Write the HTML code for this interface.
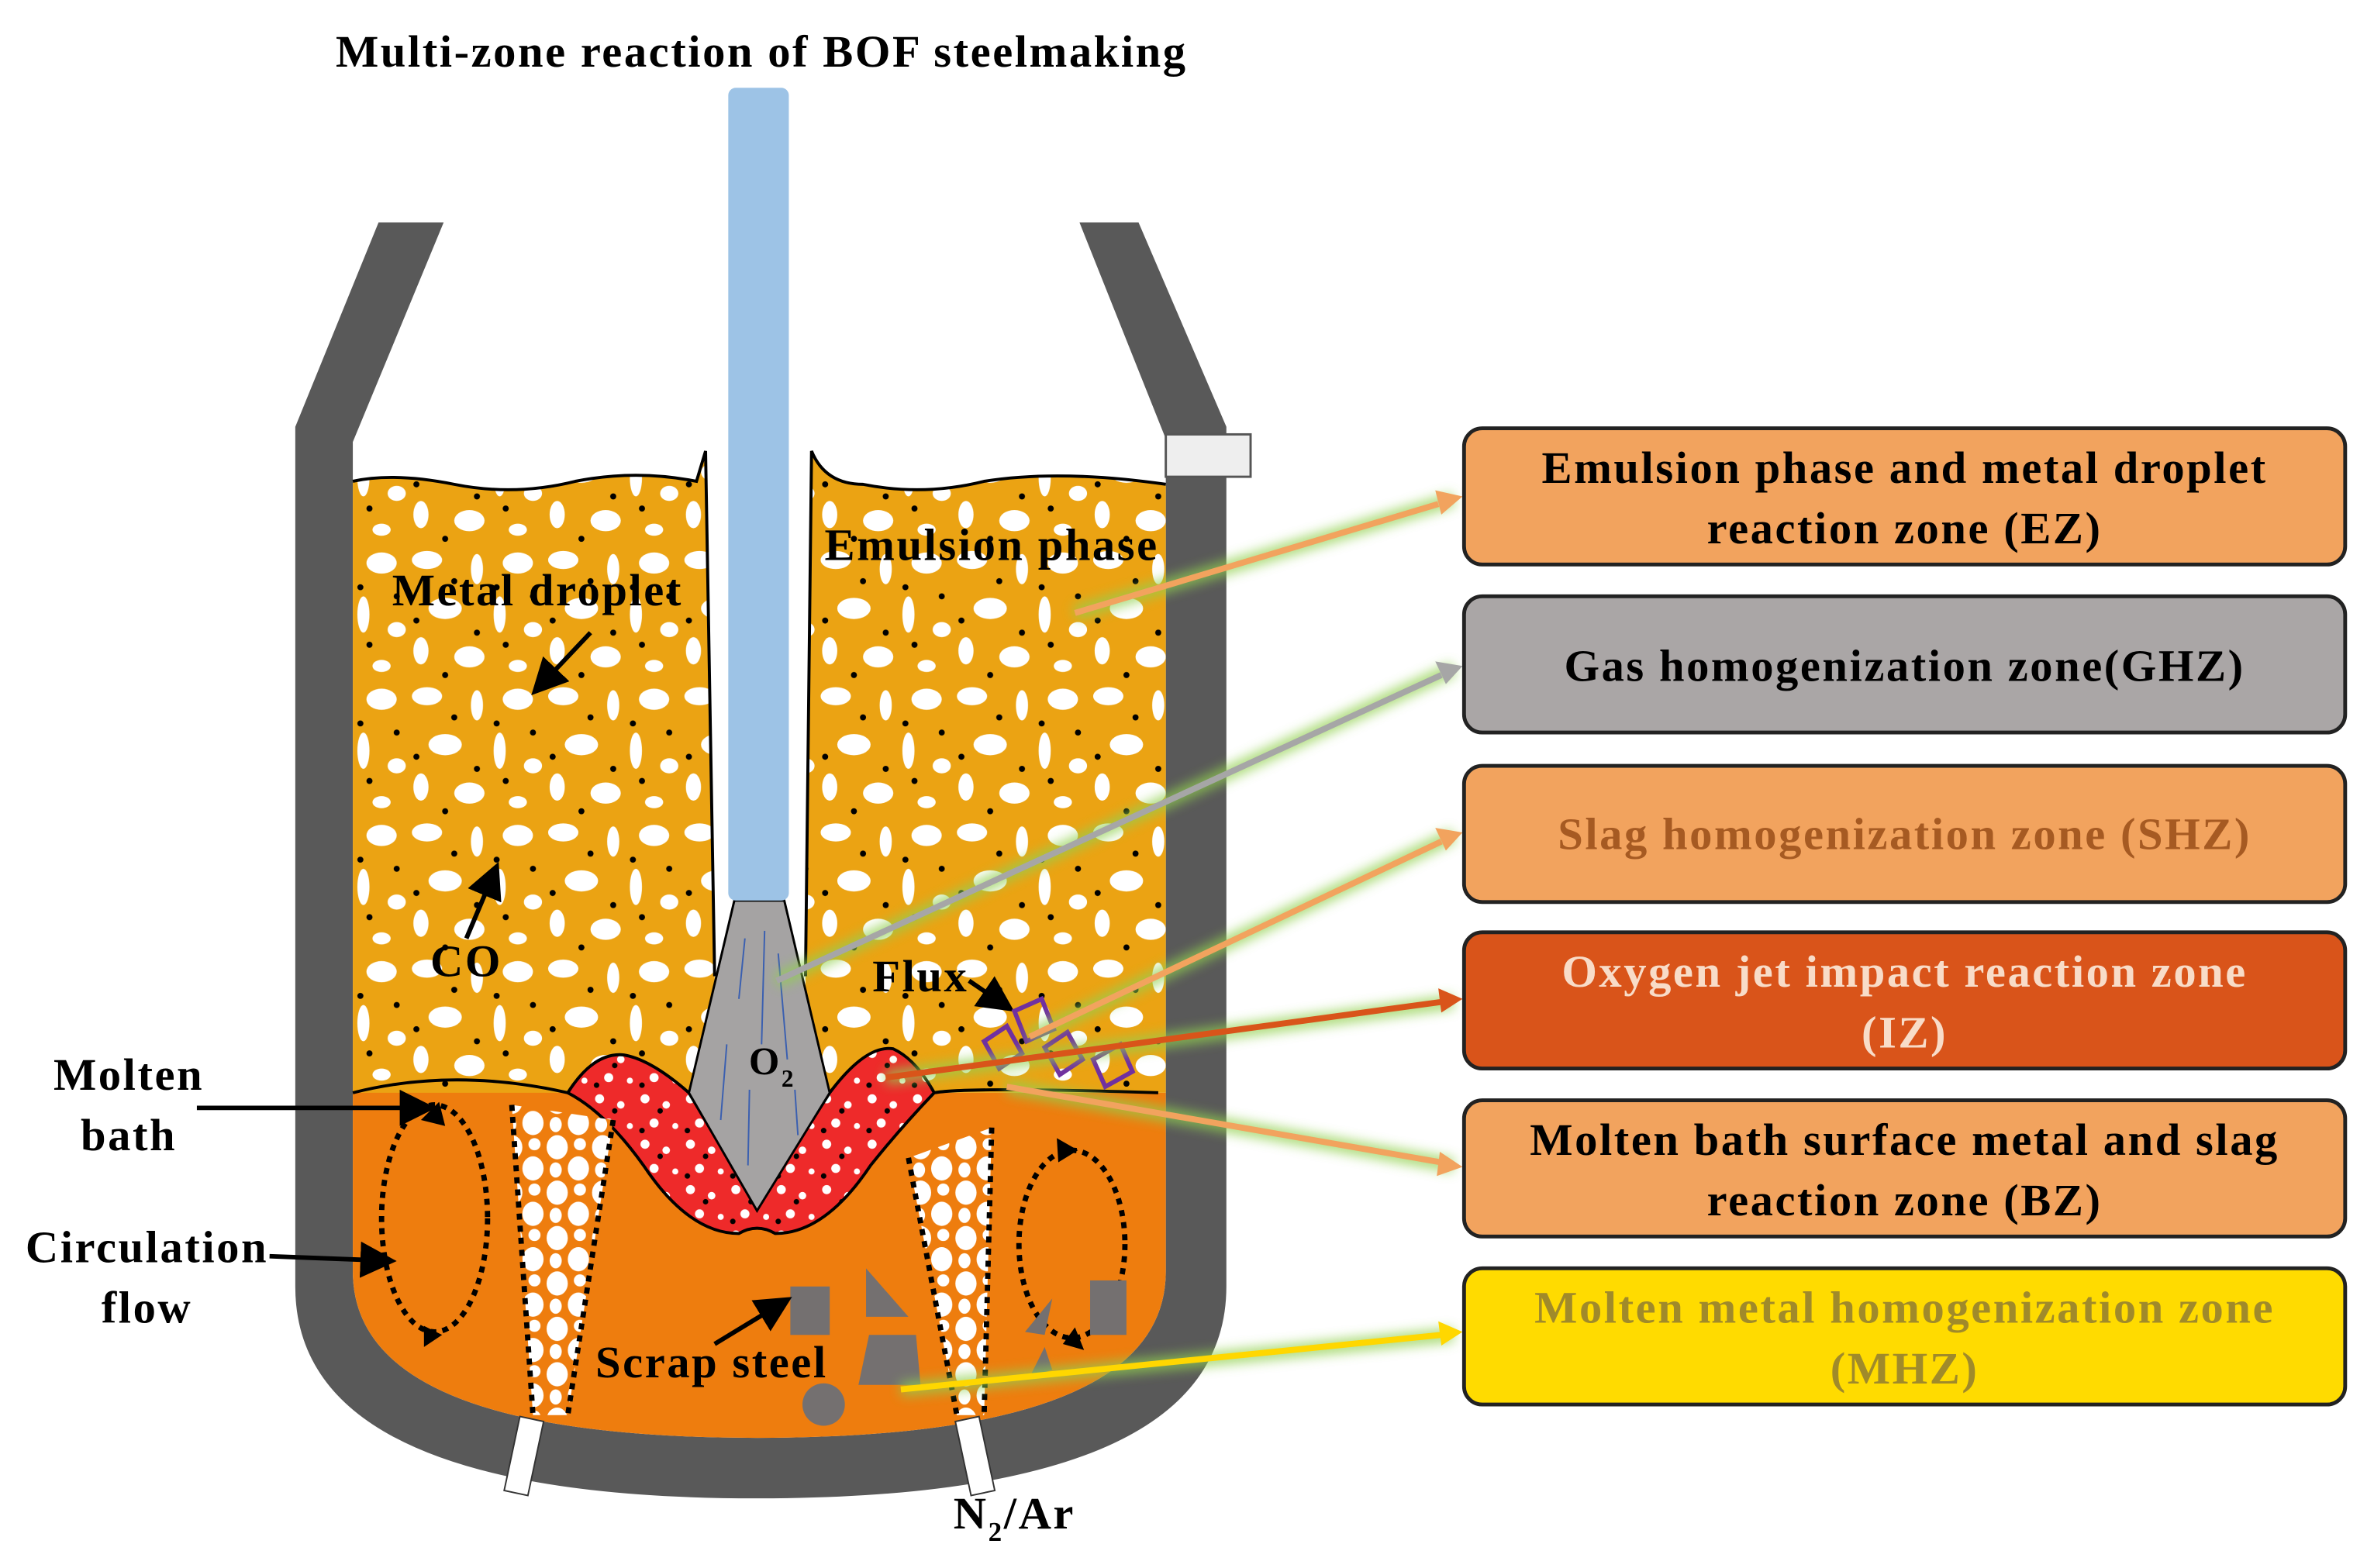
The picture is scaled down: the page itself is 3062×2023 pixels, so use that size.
<!DOCTYPE html>
<html><head><meta charset="utf-8"><style>
html,body{margin:0;padding:0;background:#fff;}
svg{display:block;}
text{font-family:"Liberation Serif",serif;font-weight:bold;letter-spacing:1.3px;}
</style></head><body>
<svg width="3062" height="2023" viewBox="0 0 1568 1036" xmlns="http://www.w3.org/2000/svg">
<defs>
<pattern id="foam" width="90" height="90" patternUnits="userSpaceOnUse">
<rect width="90" height="90" fill="#EBA313"/>
<ellipse cx="12" cy="10" rx="10" ry="6" fill="#fff"/>
<ellipse cx="45" cy="16" rx="4" ry="10" fill="#fff"/>
<ellipse cx="72" cy="12" rx="10" ry="7" fill="#fff"/>
<ellipse cx="24" cy="42" rx="11" ry="7" fill="#fff"/>
<ellipse cx="60" cy="46" rx="4" ry="12" fill="#fff"/>
<ellipse cx="82" cy="56" rx="6" ry="5" fill="#fff"/>
<ellipse cx="8" cy="70" rx="5" ry="9" fill="#fff"/>
<ellipse cx="40" cy="74" rx="10" ry="7" fill="#fff"/>
<ellipse cx="72" cy="80" rx="6" ry="4" fill="#fff"/>
<circle cx="30" cy="24" r="2" fill="#000"/>
<circle cx="58" cy="28" r="2" fill="#000"/>
<circle cx="5" cy="50" r="2" fill="#000"/>
<circle cx="45" cy="58" r="2" fill="#000"/>
<circle cx="82" cy="34" r="2" fill="#000"/>
<circle cx="24" cy="86" r="2" fill="#000"/>
<circle cx="64" cy="66" r="2" fill="#000"/>
</pattern>
<pattern id="redp" width="30" height="30" patternUnits="userSpaceOnUse">
<rect width="30" height="30" fill="#EE2A2A"/>
<circle cx="6" cy="6" r="3" fill="#fff"/><circle cx="20" cy="10" r="2.5" fill="#fff"/>
<circle cx="12" cy="22" r="3" fill="#fff"/><circle cx="26" cy="24" r="2" fill="#fff"/>
<circle cx="16" cy="14" r="1.8" fill="#000"/><circle cx="4" cy="27" r="1.8" fill="#000"/>
</pattern>
<pattern id="bub" width="30" height="30" patternUnits="userSpaceOnUse">
<rect width="30" height="30" fill="#EE7D0E"/>
<ellipse cx="8" cy="8" rx="7" ry="8" fill="#fff"/><ellipse cx="22" cy="22" rx="7" ry="8" fill="#fff"/>
<ellipse cx="23" cy="6" rx="4" ry="4" fill="#fff"/><ellipse cx="7" cy="23" rx="4" ry="5" fill="#fff"/>
</pattern>
<filter id="glow" x="-20%" y="-50%" width="140%" height="200%"><feGaussianBlur stdDeviation="4"/></filter>
<marker id="ah" markerWidth="8" markerHeight="8" refX="6" refY="4" orient="auto" markerUnits="strokeWidth"><path d="M0,0 L8,4 L0,8 Z" fill="#000"/></marker>
</defs>

<text x="503" y="44" font-size="30" text-anchor="middle">Multi-zone reaction of BOF steelmaking</text>

<!-- vessel wall -->
<path d="M250,147 L293,147 L233,292 L233,840 Q233,950 500,950 Q770,950 770,840 L770,290 L713,147 L752,147 L810,282 L810,850 Q810,990 500,990 Q195,990 195,850 L195,282 Z" fill="#595959"/>
<!-- bath -->
<path d="M233,722 Q300,705 375,722 L617,722 L770,722 L770,840 Q770,950 500,950 Q233,950 233,840 Z" fill="#EE7D0E"/>
<!-- emulsion left -->
<path d="M233,318 Q260,312 300,320 Q340,328 380,318 Q420,310 460,318 L466,298 L472,645 L472,722 L233,722 Z" fill="url(#foam)"/>
<path d="M233,318 Q260,312 300,320 Q340,328 380,318 Q420,310 460,318 L466,298 L472,645" fill="none" stroke="#000" stroke-width="2"/>
<path d="M532,645 L536,298 Q545,320 570,320 Q610,328 650,318 Q700,310 770,320 L770,722 L532,722 Z" fill="url(#foam)"/>
<path d="M532,645 L536,298 Q545,320 570,320 Q610,328 650,318 Q700,310 770,320" fill="none" stroke="#000" stroke-width="2"/>
<!-- red slag -->
<path d="M375,722 Q392,695 412,697 Q430,700 455,722 L500,798 L548,722 Q572,690 590,693 Q605,700 617,722 Q595,745 575,770 Q545,815 512,815 Q500,808 488,815 Q455,815 425,770 Q400,735 375,722 Z" fill="url(#redp)" stroke="#000" stroke-width="2"/>
<!-- bath surface line -->
<path d="M233,722 Q300,705 375,722 M617,722 Q640,718 765,722" fill="none" stroke="#000" stroke-width="2"/>
<!-- O2 cone -->
<path d="M485,595 L518,595 L548,722 L500,800 L455,722 Z" fill="#A5A3A3" stroke="#000" stroke-width="1.5"/>
<g stroke="#3a5fb0" stroke-width="1"><line x1="492" y1="620" x2="488" y2="660"/><line x1="505" y1="615" x2="503" y2="690"/><line x1="514" y1="630" x2="520" y2="700"/><line x1="480" y1="690" x2="476" y2="740"/><line x1="495" y1="720" x2="494" y2="770"/><line x1="525" y1="720" x2="527" y2="750"/></g>
<text x="510" y="710" font-size="26" text-anchor="middle">O<tspan font-size="16" dy="8">2</tspan></text>
<!-- lance -->
<rect x="481" y="58" width="40" height="537" rx="5" fill="#9DC3E6"/>
<rect x="770" y="287" width="56" height="28" fill="#eee" stroke="#555" stroke-width="1.5"/>

<!-- plumes -->
<path d="M338,730 L405,740 L375,935 L352,935 Z" fill="url(#bub)"/>
<path d="M338,730 L352,935 M405,740 L375,935" stroke="#000" stroke-width="3.5" stroke-dasharray="4,4"/>
<path d="M600,765 L655,745 L650,935 L632,935 Z" fill="url(#bub)"/>
<path d="M600,765 L632,935 M655,745 L650,935" stroke="#000" stroke-width="3.5" stroke-dasharray="4,4"/>
<rect x="338" y="937" width="16" height="50" fill="#fff" stroke="#333" transform="rotate(12 346 962)"/>
<rect x="636" y="937" width="16" height="50" fill="#fff" stroke="#333" transform="rotate(-12 644 962)"/>

<!-- circulation -->
<ellipse cx="287" cy="805" rx="35" ry="75" fill="none" stroke="#000" stroke-width="3.5" stroke-dasharray="4,4"/>
<ellipse cx="708" cy="822" rx="35" ry="62" fill="none" stroke="#000" stroke-width="3.5" stroke-dasharray="4,4"/>
<path d="M278,740 l12,-12 l4,16z M280,876 l12,6 l-12,8z M698,752 l14,8 l-13,8z M716,892 l-14,-4 l8,-11z" fill="#000"/>

<!-- scrap -->
<g fill="#747070"><rect x="522" y="850" width="26" height="32"/><path d="M572,838 L600,870 L572,870 Z"/><path d="M574,882 L605,882 L608,915 L567,915 Z"/><circle cx="544" cy="928" r="14"/><rect x="720" y="846" width="24" height="36"/><path d="M695,858 L690,882 L677,880 Z"/><path d="M690,890 L695,905 L680,910 Z"/></g>

<!-- labels -->
<text x="355" y="400" font-size="30" text-anchor="middle">Metal droplet</text>
<line x1="390" y1="418" x2="355" y2="455" stroke="#000" stroke-width="3" marker-end="url(#ah)"/>
<text x="655" y="370" font-size="30" text-anchor="middle">Emulsion phase</text>
<text x="308" y="645" font-size="30" text-anchor="middle">CO</text>
<line x1="308" y1="620" x2="327" y2="575" stroke="#000" stroke-width="3" marker-end="url(#ah)"/>
<text x="608" y="655" font-size="30" text-anchor="middle">Flux</text>
<line x1="640" y1="648" x2="665" y2="665" stroke="#000" stroke-width="3" marker-end="url(#ah)"/>
<g fill="none" stroke="#7030A0" stroke-width="3"><path d="M670,668 l18,-8 l8,20 l-18,8z"/><path d="M650,688 l15,-10 l10,18 l-15,10z"/><path d="M690,692 l15,-10 l10,18 l-15,10z"/><path d="M722,700 l18,-10 l8,18 l-18,10z"/></g>
<text x="550" y="910" font-size="30" text-anchor="end" style="text-anchor:middle" dx="-80">Scrap steel</text>
<line x1="472" y1="888" x2="518" y2="860" stroke="#000" stroke-width="3" marker-end="url(#ah)"/>
<text x="85" y="720" font-size="30" text-anchor="middle">Molten</text>
<text x="85" y="760" font-size="30" text-anchor="middle">bath</text>
<line x1="130" y1="732" x2="282" y2="732" stroke="#000" stroke-width="3" marker-end="url(#ah)"/>
<text x="97" y="834" font-size="30" text-anchor="middle">Circulation</text>
<text x="97" y="874" font-size="30" text-anchor="middle">flow</text>
<line x1="178" y1="830" x2="256" y2="833" stroke="#000" stroke-width="3" marker-end="url(#ah)"/>
<text x="670" y="1010" font-size="30" text-anchor="middle">N<tspan font-size="18" dy="8">2</tspan><tspan dy="-8">/Ar</tspan></text>

<!-- connectors -->
<g stroke="#92D050" stroke-width="9" opacity="0.8" filter="url(#glow)">
<line x1="710" y1="405" x2="960" y2="330"/><line x1="513" y1="648" x2="960" y2="442"/><line x1="680" y1="685" x2="960" y2="552"/><line x1="585" y1="712" x2="960" y2="662"/><line x1="665" y1="718" x2="960" y2="770"/><line x1="595" y1="918" x2="960" y2="882"/>
</g>
<g stroke-width="4">
<line x1="710" y1="405" x2="950" y2="333" stroke="#F2A35E"/><path d="M966,328 L948,324 L952,340Z" fill="#F2A35E"/>
<line x1="513" y1="648" x2="952" y2="446" stroke="#A6A6A6"/><path d="M966,440 L948,437 L955,452Z" fill="#A6A6A6"/>
<line x1="680" y1="685" x2="952" y2="556" stroke="#F2A35E"/><path d="M966,550 L948,547 L955,562Z" fill="#F2A35E"/>
<line x1="585" y1="712" x2="952" y2="662" stroke="#D9541A"/><path d="M966,660 L950,653 L952,669Z" fill="#D9541A"/>
<line x1="665" y1="718" x2="952" y2="768" stroke="#F2A35E"/><path d="M966,771 L951,761 L949,777Z" fill="#F2A35E"/>
<line x1="595" y1="918" x2="952" y2="882" stroke="#FFD700"/><path d="M966,880 L950,873 L952,889Z" fill="#FFD700"/>
</g>

<!-- boxes -->
<g stroke="#222" stroke-width="2.5">
<rect x="967" y="283" width="582" height="90" rx="12" fill="#F2A35E"/>
<rect x="967" y="394" width="582" height="90" rx="12" fill="#AAA6A6"/>
<rect x="967" y="506" width="582" height="90" rx="12" fill="#F2A35E"/>
<rect x="967" y="616" width="582" height="90" rx="12" fill="#D9541A"/>
<rect x="967" y="727" width="582" height="90" rx="12" fill="#F2A35E"/>
<rect x="967" y="838" width="582" height="90" rx="12" fill="#FFDB00"/>
</g>
<g font-size="30" text-anchor="middle">
<text x="1258" y="319">Emulsion phase and metal droplet</text>
<text x="1258" y="359">reaction zone (EZ)</text>
<text x="1258" y="450">Gas homogenization zone(GHZ)</text>
<text x="1258" y="561" fill="#A65A22">Slag homogenization zone (SHZ)</text>
<text x="1258" y="652" fill="#F8DCC8">Oxygen jet impact reaction zone</text>
<text x="1258" y="692" fill="#F8DCC8">(IZ)</text>
<text x="1258" y="763">Molten bath surface metal and slag</text>
<text x="1258" y="803">reaction zone (BZ)</text>
<text x="1258" y="874" fill="#A08A2A">Molten metal homogenization zone</text>
<text x="1258" y="914" fill="#A08A2A">(MHZ)</text>
</g>
</svg>
</body></html>
